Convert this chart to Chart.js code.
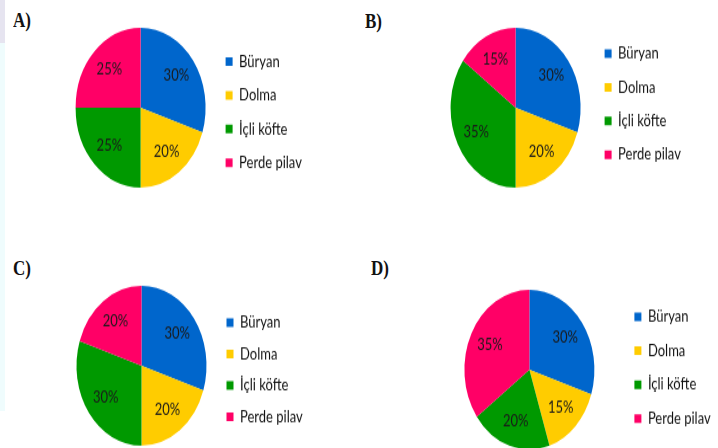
<!DOCTYPE html>
<html>
<head>
<meta charset="utf-8">
<script src="https://cdn.jsdelivr.net/npm/chart.js@4.4.1/dist/chart.umd.min.js"></script>
<style>
  html, body { margin: 0; padding: 0; background: #fff; width: 718px; height: 448px; overflow: hidden; }
  body { position: relative; }
  .panel { position: absolute; transform-origin: 0 0; overflow: hidden; }
  .tag { position: absolute; font: bold 17px "Liberation Serif", serif; line-height: 17px; color: #111; transform-origin: 0 0; white-space: nowrap; }
  .strip { position: absolute; left: 0; width: 5px; }
</style>
</head>
<body>
<div class="strip" style="top:0;height:43px;background:#e6e4f0"></div>
<div class="strip" style="top:43px;height:368px;background:#effcfd"></div>

<div class="tag" style="left:13px;top:10px">A)</div>
<div class="tag" style="left:365px;top:11px">B)</div>
<div class="tag" style="left:13px;top:258px">C)</div>
<div class="tag" style="left:371px;top:258px">D)</div>

<div class="panel" id="pA"><canvas id="cA"></canvas></div>
<div class="panel" id="pB"><canvas id="cB"></canvas></div>
<div class="panel" id="pC"><canvas id="cC"></canvas></div>
<div class="panel" id="pD"><canvas id="cD"></canvas></div>

<script>
// dati
var categories = ["Büryan", "Dolma", "İçli köfte", "Perde pilav"];
var valuesA = [30, 20, 25, 25];
var valuesB = [30, 20, 35, 15];
var valuesC = [30, 20, 30, 20];
var valuesD = [30, 15, 20, 35];
var colors = ["#0066cc", "#ffcc00", "#009900", "#ff0066"];

// l'immagine originale e' stirata in verticale
var S = 1.23;
var R = 65;      // raggio orizzontale della torta
var H = 180;     // altezza del canvas (non stirata)

document.querySelectorAll(".tag").forEach(function (t) {
    t.style.transform = "scaleY(" + S + ")";
});

// etichette percentuali dentro le fette
var pctLabels = {
    id: "pctLabels",
    afterDatasetsDraw: function (chart) {
        var ctx = chart.ctx;
        var meta = chart.getDatasetMeta(0);
        var data = chart.data.datasets[0].data;
        ctx.save();
        ctx.font = "13px Lato";
        ctx.fillStyle = "#1a1a1a";
        ctx.textAlign = "center";
        ctx.textBaseline = "middle";
        meta.data.forEach(function (arc, i) {
            var p = arc.getProps(["x", "y", "startAngle", "endAngle", "outerRadius"], true);
            var a = (p.startAngle + p.endAngle) / 2;
            var d = p.outerRadius * 0.68;
            ctx.fillText(data[i] + "%", p.x + Math.cos(a) * d, p.y + Math.sin(a) * d);
        });
        ctx.restore();
    }
};

function torta(id, values, cx, cy, sqX, spacing, offY) {
    var lp = spacing - 13;                  // padding legenda
    var m = sqX - lp - cx - R;              // margine tra torta e legenda
    var left = cx - R - m;
    var top = cy - S * (H / 2);
    var w = 300;
    var box = document.getElementById("p" + id);
    box.style.left = left + "px";
    box.style.top = top + "px";
    box.style.width = w + "px";
    box.style.height = H + "px";
    box.style.transform = "scaleY(" + S + ")";

    var chart = new Chart(document.getElementById("c" + id), {
        type: "pie",
        data: {
            labels: categories,
            datasets: [
                {
                    data: values,
                    backgroundColor: colors,
                    borderWidth: 0,
                    radius: R
                }
            ]
        },
        options: {
            responsive: true,
            maintainAspectRatio: false,
            animation: false,
            events: [],
            layout: { padding: 0 },
            plugins: {
                tooltip: { enabled: false },
                legend: {
                    position: "right",
                    align: "center",
                    title: {
                        display: true,
                        text: "",
                        font: { size: 0 },
                        padding: { top: 2 * offY / S, bottom: 0 }
                    },
                    labels: {
                        boxWidth: 7,
                        boxHeight: 7,
                        padding: lp,
                        color: "#111",
                        font: { family: "Lato", size: 13 }
                    }
                }
            }
        },
        plugins: [pctLabels]
    });
    // sposto la legenda dove serve
    var legendLeft = sqX - lp - left;
    chart.options.layout.padding = { left: 0, top: 0, bottom: 0, right: w - legendLeft - chart.legend.width };
    chart.update("none");
    return chart;
}

var chartA = torta("A", valuesA, 141, 108, 226, 27.4, 4.5);
var chartB = torta("B", valuesB, 516, 108, 605, 27.4, -3.5);
var chartC = torta("C", valuesC, 141, 366, 226, 25.5, 4);
var chartD = torta("D", valuesD, 529, 370, 634, 27.6, -2);
</script>
</body>
</html>
